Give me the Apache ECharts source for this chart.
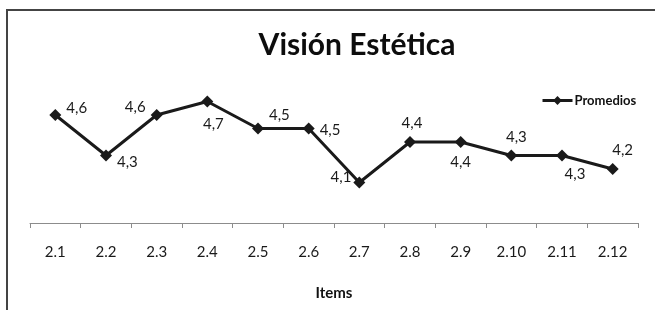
<!DOCTYPE html>
<html>
<head>
<meta charset="utf-8">
<script src="https://cdn.jsdelivr.net/npm/echarts@6/dist/echarts.min.js"></script>
<style>
  html, body { margin: 0; padding: 0; background: #fff; }
  #chart { width: 655px; height: 310px; }
</style>
</head>
<body>
<div id="chart"></div>
<script>
// datos
const categories = ['2.1', '2.2', '2.3', '2.4', '2.5', '2.6', '2.7', '2.8', '2.9', '2.10', '2.11', '2.12'];
const promedios = [4.6, 4.3, 4.6, 4.7, 4.5, 4.5, 4.1, 4.4, 4.4, 4.3, 4.3, 4.2];

// colocacion de etiquetas (como en Excel)
const labelPlace = [
    { position: 'right', offset: [0, -7] },
    { position: 'right', offset: [0, 7] },
    { position: 'left', offset: [0, -8] },
    { position: 'bottom', offset: [6, 4] },
    { position: 'right', offset: [0, -13] },
    { position: 'right', offset: [0, 2] },
    { position: 'left', offset: [3, -5] },
    { position: 'top', offset: [2, 0] },
    { position: 'bottom', offset: [0, 2] },
    { position: 'top', offset: [5, 0] },
    { position: 'bottom', offset: [13, 0] },
    { position: 'top', offset: [10, 0] }
];

const font = 'Lato, "Open Sans", sans-serif';
let myChart = echarts.init(document.getElementById('chart'));

let option = {
    animation: false,
    textStyle: { fontFamily: font },
    title: {
        text: 'Visión Estética',
        left: 352,
        top: 25,
        textAlign: 'center',
        textStyle: {
            fontFamily: font,
            fontSize: 30,
            fontWeight: 'bold',
            color: '#0d0d0d'
        }
    },
    legend: {
        left: 536,
        top: 89,
        itemWidth: 30,
        itemHeight: 11,
        itemGap: 4,
        data: ['Promedios'],
        lineStyle: { width: 3 },
        textStyle: {
            fontFamily: font,
            fontSize: 13,
            fontWeight: 'bold',
            color: '#111',
            padding: [0, 0, 0, -3]
        }
    },
    grid: {
        left: 30,
        right: 17,
        top: 88,
        bottom: 87,
        containLabel: false
    },
    graphic: [{
        type: 'rect',
        shape: { x: 7, y: 10, width: 700, height: 400 },
        style: { fill: 'none', stroke: '#444', lineWidth: 2 },
        silent: true
    }],
    xAxis: {
        type: 'category',
        data: categories,
        boundaryGap: true,
        name: 'Items',
        nameLocation: 'middle',
        nameGap: 63,
        nameTextStyle: {
            fontFamily: font,
            fontSize: 15,
            fontWeight: 'bold',
            color: '#111'
        },
        axisLine: { lineStyle: { color: '#8c8c8c', width: 1 } },
        axisTick: { show: true, length: 5, inside: false, lineStyle: { color: '#8c8c8c' } },
        axisLabel: {
            margin: 22,
            fontFamily: font,
            fontSize: 15,
            color: '#1a1a1a'
        }
    },
    yAxis: {
        type: 'value',
        min: 3.8,
        max: 4.8,
        show: false,
        splitLine: { show: false }
    },
    series: [{
        name: 'Promedios',
        type: 'line',
        data: promedios.map((v, i) => ({
            value: v,
            label: labelPlace[i]
        })),
        symbol: 'diamond',
        symbolSize: 12,
        lineStyle: { color: '#1a1a1a', width: 3 },
        itemStyle: { color: '#1a1a1a' },
        label: {
            show: true,
            distance: 5,
            fontFamily: font,
            fontSize: 15,
            color: '#1a1a1a',
            formatter: p => String(p.value).replace('.', ',')
        }
    }]
};

myChart.setOption(option);
</script>
</body>
</html>
